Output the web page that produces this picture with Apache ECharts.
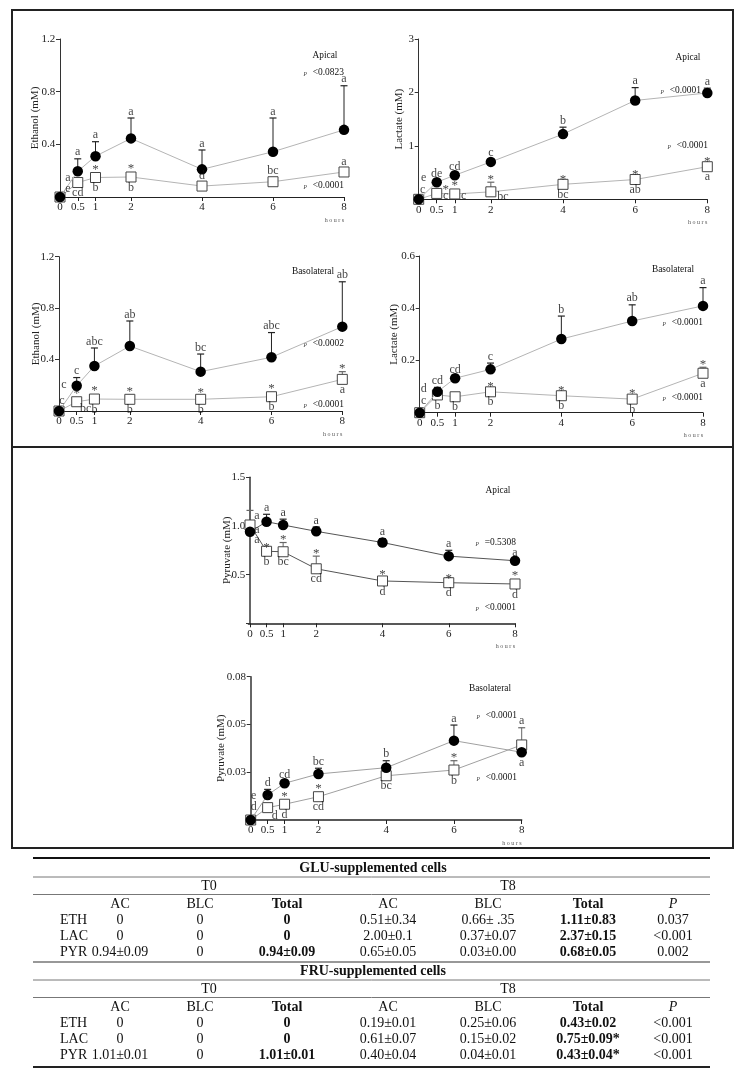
<!DOCTYPE html>
<html>
<head>
<meta charset="utf-8">
<script src="https://cdn.jsdelivr.net/npm/echarts@6/dist/echarts.min.js"></script>
<style>
html,body{margin:0;padding:0;background:#fff;}
#c{width:746px;height:1085px;}
</style>
</head>
<body>
<div id="c"></div>
<script>
// ---------------- DATA ----------------
const hours = [0, 0.5, 1, 2, 4, 6, 8];

// Ethanol apical
const ethApGlu    = [0, 0.195, 0.31, 0.445, 0.21, 0.344, 0.51];
const ethApGluErr = [0, 0.095, 0.11, 0.155, 0.147, 0.256, 0.335];
const ethApFru    = [0, 0.11, 0.148, 0.152, 0.083, 0.116, 0.19];
const ethApFruErr = [0, 0, 0, 0, 0, 0, 0];
// Lactate apical
const lacApGlu    = [0, 0.32, 0.45, 0.70, 1.22, 1.85, 1.99];
const lacApGluErr = [0, 0.03, 0.04, 0.04, 0.13, 0.24, 0.09];
const lacApFru    = [0, 0.11, 0.10, 0.14, 0.28, 0.37, 0.61];
const lacApFruErr = [0, 0.02, 0, 0.18, 0.04, 0.04, 0.04];
// Ethanol basolateral
const ethBlGlu    = [0, 0.197, 0.35, 0.505, 0.306, 0.418, 0.656];
const ethBlGluErr = [0, 0.063, 0.14, 0.195, 0.137, 0.192, 0.349];
const ethBlFru    = [0, 0.072, 0.093, 0.091, 0.091, 0.111, 0.246];
const ethBlFruErr = [0, 0, 0, 0, 0.03, 0, 0.06];
// Lactate basolateral
const lacBlGlu    = [0, 0.08, 0.132, 0.166, 0.282, 0.351, 0.409];
const lacBlGluErr = [0, 0.017, 0.008, 0.024, 0.088, 0.062, 0.07];
const lacBlFru    = [0, 0.068, 0.061, 0.08, 0.065, 0.052, 0.151];
const lacBlFruErr = [0, 0, 0, 0.01, 0.01, 0.01, 0.023];
// Pyruvate apical
const pyrApGlu    = [0.94, 1.044, 1.01, 0.945, 0.83, 0.69, 0.643];
const pyrApGluErr = [0, 0.076, 0.06, 0.045, 0.04, 0.06, 0.01];
const pyrApFru    = [1.01, 0.74, 0.735, 0.56, 0.435, 0.417, 0.404];
const pyrApFruErr = [0.15, 0.01, 0.095, 0.13, 0.035, 0.01, 0];
// Pyruvate basolateral
const pyrBlGlu    = [0, 0.014, 0.0205, 0.0257, 0.0292, 0.0443, 0.0378];
const pyrBlGluErr = [0, 0.0031, 0.001, 0.0032, 0.0039, 0.0087, 0];
const pyrBlFru    = [0, 0.0069, 0.0088, 0.013, 0.0247, 0.0279, 0.0419];
const pyrBlFruErr = [0, 0, 0, 0, 0.002, 0.0052, 0.0096];

// y tick values / labels
const ethTicks = [0, 0.4, 0.8, 1.2];       const ethTickLabels = ['', '0.4', '0.8', '1.2'];
const lacApTicks = [0, 1, 2, 3];           const lacApTickLabels = ['', '1', '2', '3'];
const lacBlTicks = [0, 0.2, 0.4, 0.6];     const lacBlTickLabels = ['', '0.2', '0.4', '0.6'];
const pyrApTicks = [0, 0.5, 1.0, 1.5];     const pyrApTickLabels = ['', '0.5', '1.0', '1.5'];
const pyrBlTicks = [0, 0.0267, 0.0533, 0.08]; const pyrBlTickLabels = ['', '0.03', '0.05', '0.08'];

// letter annotations: [index, text, placement]  ('t' above, 'b' below, or [dx,dy] from point)
const ethApGluLab = [[0,'a',[8,-19]],[1,'a','t'],[2,'a','t'],[3,'a','t'],[4,'a','t'],[5,'a','t'],[6,'a','t']];
const ethApFruLab = [[0,'e',[8,-8]],[1,'cd','b'],[2,'*','t'],[2,'b','b'],[3,'*','t'],[3,'b','b'],[4,'d','t'],[5,'bc','t'],[6,'a','t']];
const lacApGluLab = [[0,'e',[5,-21]],[1,'de','t'],[2,'cd','t'],[3,'c','t'],[4,'b','t'],[5,'a','t'],[6,'a','t']];
const lacApFruLab = [[0,'c',[4,-9]],[1,'*',[9,-4]],[1,'c',[9,2]],[2,'*','t'],[2,'c',[9,2]],[3,'*','t'],[3,'bc',[12,5]],[4,'*','t'],[4,'bc','b'],[5,'*','t'],[5,'ab','b'],[6,'*','t'],[6,'a','b']];
const ethBlGluLab = [[0,'c',[5,-26]],[1,'c','t'],[2,'abc','t'],[3,'ab','t'],[4,'bc','t'],[5,'abc','t'],[6,'ab','t']];
const ethBlFruLab = [[0,'c',[3,-10]],[1,'*','t'],[1,'bc',[9,7]],[2,'*','t'],[2,'b','b'],[3,'*','t'],[3,'b','b'],[4,'*','t'],[4,'b','b'],[5,'*','t'],[5,'b','b'],[6,'*','t'],[6,'a','b']];
const lacBlGluLab = [[0,'d',[4,-24]],[1,'cd','t'],[2,'cd','t'],[3,'c','t'],[4,'b','t'],[5,'ab','t'],[6,'a','t']];
const lacBlFruLab = [[0,'c',[4,-12]],[1,'b','b'],[2,'b','b'],[3,'*','t'],[3,'b','b'],[4,'*','t'],[4,'b','b'],[5,'*','t'],[5,'b','b'],[6,'*','t'],[6,'a','b']];
const pyrApGluLab = [[0,'a',[7,-16]],[1,'a','t'],[2,'a','t'],[3,'a','t'],[4,'a','t'],[5,'a','t'],[6,'a','t']];
const pyrApFruLab = [[0,'a',[7,5]],[0,'a',[7,15]],[1,'*','t'],[1,'b','b'],[2,'*','t'],[2,'bc','b'],[3,'*','t'],[3,'cd','b'],[4,'*','t'],[4,'d','b'],[5,'*','t'],[5,'d','b'],[6,'*','t'],[6,'d','b']];
const pyrBlGluLab = [[0,'e',[3,-24]],[1,'d','t'],[2,'cd','t'],[3,'bc','t'],[4,'b','t'],[5,'a','t'],[6,'a','b']];
const pyrBlFruLab = [[0,'d',[3,-13]],[1,'*','t'],[1,'d',[7,8]],[2,'*','t'],[2,'d','b'],[3,'*','t'],[3,'cd','b'],[4,'bc','b'],[5,'*','t'],[5,'b','b'],[6,'a','t']];

// table
const tableHeader = ['', 'AC', 'BLC', 'Total', 'AC', 'BLC', 'Total', 'P'];
const gluTable = [
  ['ETH', '0', '0', '0', '0.51±0.34', '0.66± .35', '1.11±0.83', '0.037'],
  ['LAC', '0', '0', '0', '2.00±0.1', '0.37±0.07', '2.37±0.15', '<0.001'],
  ['PYR', '0.94±0.09', '0', '0.94±0.09', '0.65±0.05', '0.03±0.00', '0.68±0.05', '0.002']
];
const fruTable = [
  ['ETH', '0', '0', '0', '0.19±0.01', '0.25±0.06', '0.43±0.02', '<0.001'],
  ['LAC', '0', '0', '0', '0.61±0.07', '0.15±0.02', '0.75±0.09*', '<0.001'],
  ['PYR', '1.01±0.01', '0', '1.01±0.01', '0.40±0.04', '0.04±0.01', '0.43±0.04*', '<0.001']
];

// ---------------- LAYOUT ----------------
const FONT = '"Liberation Serif", "Times New Roman", serif';
const panels = [
  {x0:60, x8:344, y0:197, yT:39, max:1.2, ticks:ethTicks, tl:ethTickLabels, name:'Ethanol (mM)', gap:18,
   g:ethApGlu, ge:ethApGluErr, f:ethApFru, fe:ethApFruErr, gl:ethApGluLab, fl:ethApFruLab, line:'#b4b4b4', axisW:1},
  {x0:418.7, x8:707.3, y0:199.3, yT:39, max:3, ticks:lacApTicks, tl:lacApTickLabels, name:'Lactate (mM)', gap:12,
   g:lacApGlu, ge:lacApGluErr, f:lacApFru, fe:lacApFruErr, gl:lacApGluLab, fl:lacApFruLab, line:'#b4b4b4', axisW:1},
  {x0:59, x8:342.3, y0:411, yT:256.7, max:1.2, ticks:ethTicks, tl:ethTickLabels, name:'Ethanol (mM)', gap:16,
   g:ethBlGlu, ge:ethBlGluErr, f:ethBlFru, fe:ethBlFruErr, gl:ethBlGluLab, fl:ethBlFruLab, line:'#b4b4b4', axisW:1},
  {x0:419.7, x8:703, y0:412.7, yT:256, max:0.6, ticks:lacBlTicks, tl:lacBlTickLabels, name:'Lactate (mM)', gap:18,
   g:lacBlGlu, ge:lacBlGluErr, f:lacBlFru, fe:lacBlFruErr, gl:lacBlGluLab, fl:lacBlFruLab, line:'#b4b4b4', axisW:1},
  {x0:250, x8:515, y0:623.3, yT:477.3, max:1.5, ticks:pyrApTicks, tl:pyrApTickLabels, name:'Pyruvate (mM)', gap:16,
   g:pyrApGlu, ge:pyrApGluErr, f:pyrApFru, fe:pyrApFruErr, gl:pyrApGluLab, fl:pyrApFruLab, line:'#555', axisW:1.5},
  {x0:250.7, x8:521.7, y0:820, yT:676.7, max:0.08, ticks:pyrBlTicks, tl:pyrBlTickLabels, name:'Pyruvate (mM)', gap:22,
   g:pyrBlGlu, ge:pyrBlGluErr, f:pyrBlFru, fe:pyrBlFruErr, gl:pyrBlGluLab, fl:pyrBlFruLab, line:'#a0a0a0', axisW:1.5}
];

const XMIN = -0.05;
const grids = [], xAxes = [], yAxes = [], series = [];

panels.forEach((p, k) => {
  const ppu = (p.x8 - p.x0) / 8;
  grids.push({left: p.x0 + XMIN * ppu, top: p.yT, width: (8 - XMIN) * ppu, height: p.y0 - p.yT,
              outerBoundsMode: 'none', containLabel: false});
  xAxes.push({type:'value', gridIndex:k, min:XMIN, max:8,
    axisLine:{show:true, onZero:false, lineStyle:{color:'#222', width:p.axisW}},
    axisTick:{show:true, customValues:hours, length:4, lineStyle:{color:'#222', width:1}},
    axisLabel:{show:true, customValues:hours, fontFamily:FONT, fontSize:11, color:'#222', margin:5},
    splitLine:{show:false},
    name:'h o u r s', nameLocation:'end', nameGap:0, nameMoveOverlap:false,
    nameTextStyle:{fontFamily:FONT, fontSize:6, color:'#555', align:'right', verticalAlign:'top', padding:[20,0,0,0]}
  });
  const tl = p.tl, tv = p.ticks;
  yAxes.push({type:'value', gridIndex:k, min:0, max:p.max,
    axisLine:{show:true, lineStyle:{color:'#333', width:p.axisW}},
    axisTick:{show:true, customValues:tv, length:4, lineStyle:{color:'#333', width:1}},
    axisLabel:{show:true, customValues:tv, fontFamily:FONT, fontSize:11, color:'#222', margin:3,
      formatter: v => { let best = 0; tv.forEach((t, i) => { if (Math.abs(t - v) < Math.abs(tv[best] - v)) best = i; }); return tl[best]; }},
    splitLine:{show:false},
    name:p.name, nameLocation:'middle', nameGap:p.gap, nameMoveOverlap:false,
    nameTextStyle:{fontFamily:FONT, fontSize:11, color:'#222'}
  });

  // error bars
  const errSeries = (vals, errs, color) => ({
    type:'custom', xAxisIndex:k, yAxisIndex:k, z:1, silent:true,
    data: hours.map((h, i) => [h, vals[i], vals[i] + errs[i]]).filter((d, i) => errs[i] > 0),
    renderItem: (params, api) => {
      const a = api.coord([api.value(0), api.value(1)]);
      const b = api.coord([api.value(0), api.value(2)]);
      return {type:'group', children:[
        {type:'line', shape:{x1:a[0], y1:a[1], x2:b[0], y2:b[1]}, style:{stroke:color, lineWidth:1}},
        {type:'line', shape:{x1:b[0]-3.5, y1:b[1], x2:b[0]+3.5, y2:b[1]}, style:{stroke:color, lineWidth:1.2}}
      ]};
    }
  });
  series.push(errSeries(p.f, p.fe, '#666'));
  series.push(errSeries(p.g, p.ge, '#222'));

  // lines + markers
  series.push({type:'line', xAxisIndex:k, yAxisIndex:k, z:3, silent:true, animation:false,
    data: hours.map((h, i) => [h, p.f[i]]),
    symbol:'rect', symbolSize:10, showSymbol:true,
    lineStyle:{color:p.line, width:1},
    itemStyle:{color:'#fff', borderColor:'#444', borderWidth:1}});
  series.push({type:'line', xAxisIndex:k, yAxisIndex:k, z:4, silent:true, animation:false,
    data: hours.map((h, i) => [h, p.g[i]]),
    symbol:'circle', symbolSize:10.5, showSymbol:true,
    lineStyle:{color:p.line, width:1},
    itemStyle:{color:'#000', borderColor:'#000', borderWidth:0}});

  // letter annotations
  const annData = (vals, errs, labs) => labs.map(([i, txt, pl]) => {
    const star = txt === '*';
    const fs = star ? 13 : 12;
    if (Array.isArray(pl)) {
      return {value:[hours[i], vals[i]], label:{show:true, formatter:txt, position:[pl[0] + 0.5, pl[1] + 0.5],
        align:'center', verticalAlign:'middle', fontSize:fs}};
    }
    if (pl === 't') {
      const e = errs[i] > 0;
      return {value:[hours[i], vals[i] + errs[i]],
        label:{show:true, formatter:txt, position:'top', fontSize:fs,
               distance: star ? (e ? -4 : 1) : (e ? 0 : 4)}};
    }
    return {value:[hours[i], vals[i]], label:{show:true, formatter:txt, position:'bottom', fontSize:fs, distance:4}};
  });
  series.push({type:'scatter', xAxisIndex:k, yAxisIndex:k, z:6, silent:true, animation:false,
    symbol:'circle', symbolSize:1, itemStyle:{color:'rgba(0,0,0,0)'},
    label:{fontFamily:FONT, color:'#111'},
    labelLayout:{hideOverlap:false},
    data: annData(p.g, p.ge, p.gl).concat(annData(p.f, p.fe, p.fl))});
});

// ---------------- GRAPHICS (frames, panel texts, table) ----------------
const graphic = [];
graphic.push({type:'rect', shape:{x:12, y:10, width:721, height:437}, style:{fill:'none', stroke:'#222', lineWidth:2}});
graphic.push({type:'rect', shape:{x:12, y:447, width:721, height:401}, style:{fill:'none', stroke:'#222', lineWidth:2}});

const titleText = (txt, x, y) => ({type:'text', x:x, y:y, scaleX:0.85, style:{text:txt, fontFamily:FONT, fontSize:11, fill:'#111', textAlign:'center', textVerticalAlign:'middle'}});
const pText = (txt, xr, y) => ({type:'text', x:xr, y:y, scaleX:0.9, style:{text:'{p|P}  {v|' + txt + '}', textAlign:'right', textVerticalAlign:'middle',
  rich:{p:{fontFamily:FONT, fontSize:6, fontStyle:'italic', fill:'#333', padding:[4,0,0,0]}, v:{fontFamily:FONT, fontSize:10.5, fill:'#111'}}}});

graphic.push(titleText('Apical', 325, 55));
graphic.push(pText('<0.0823', 344, 72));
graphic.push(pText('<0.0001', 344, 185));
graphic.push(titleText('Apical', 688, 57));
graphic.push(pText('<0.0001', 701, 90));
graphic.push(pText('<0.0001', 708, 145));
graphic.push(titleText('Basolateral', 313, 271));
graphic.push(pText('<0.0002', 344, 343));
graphic.push(pText('<0.0001', 344, 404));
graphic.push(titleText('Basolateral', 673, 269));
graphic.push(pText('<0.0001', 703, 322));
graphic.push(pText('<0.0001', 703, 397));
graphic.push(titleText('Apical', 498, 490));
graphic.push(pText('=0.5308', 516, 542));
graphic.push(pText('<0.0001', 516, 607));
graphic.push(titleText('Basolateral', 490, 688));
graphic.push(pText('<0.0001', 517, 715));
graphic.push(pText('<0.0001', 517, 777));

// table
const TL = 33, TR = 710;
const colX = [60, 120, 200, 287, 388, 488, 588, 673];
const T0X = 209, T8X = 508;
const hline = (y, w, c) => ({type:'line', shape:{x1:TL, y1:y, x2:TR, y2:y}, style:{stroke:c, lineWidth:w}});
const tTxt = (txt, x, y, opts) => ({type:'text', x:x, y:y, style:Object.assign({text:txt, fontFamily:FONT, fontSize:14, fill:'#111',
  textAlign:'center', textVerticalAlign:'middle'}, opts || {})});

function drawBlock(y0, title, rows) {
  graphic.push(tTxt(title, 373, y0 + 10, {fontWeight:'bold'}));
  graphic.push(hline(y0 + 19, 1, '#777'));
  graphic.push(tTxt('T0', T0X, y0 + 28));
  graphic.push(tTxt('T8', T8X, y0 + 28));
  graphic.push(hline(y0 + 36.5, 1, '#777'));
  tableHeader.forEach((h, c) => {
    if (!h) return;
    graphic.push(tTxt(h, colX[c], y0 + 46, {fontWeight:(c === 3 || c === 6) ? 'bold' : 'normal', fontStyle: c === 7 ? 'italic' : 'normal'}));
  });
  rows.forEach((r, ri) => {
    const y = y0 + 62 + ri * 16.3;
    r.forEach((v, c) => {
      if (c === 0) graphic.push(tTxt(v, colX[0], y, {textAlign:'left'}));
      else graphic.push(tTxt(v, colX[c], y, {fontWeight:(c === 3 || c === 6) ? 'bold' : 'normal'}));
    });
  });
}
graphic.push(hline(858, 1.8, '#111'));
drawBlock(858, 'GLU-supplemented cells', gluTable);
graphic.push(hline(962, 1.2, '#333'));
drawBlock(961, 'FRU-supplemented cells', fruTable);
graphic.push(hline(1067, 2.2, '#222'));

const chart = echarts.init(document.getElementById('c'), null, {renderer:'canvas'});
chart.setOption({
  animation:false,
  backgroundColor:'#fff',
  grid:grids, xAxis:xAxes, yAxis:yAxes, series:series, graphic:graphic
});
</script>
</body>
</html>
